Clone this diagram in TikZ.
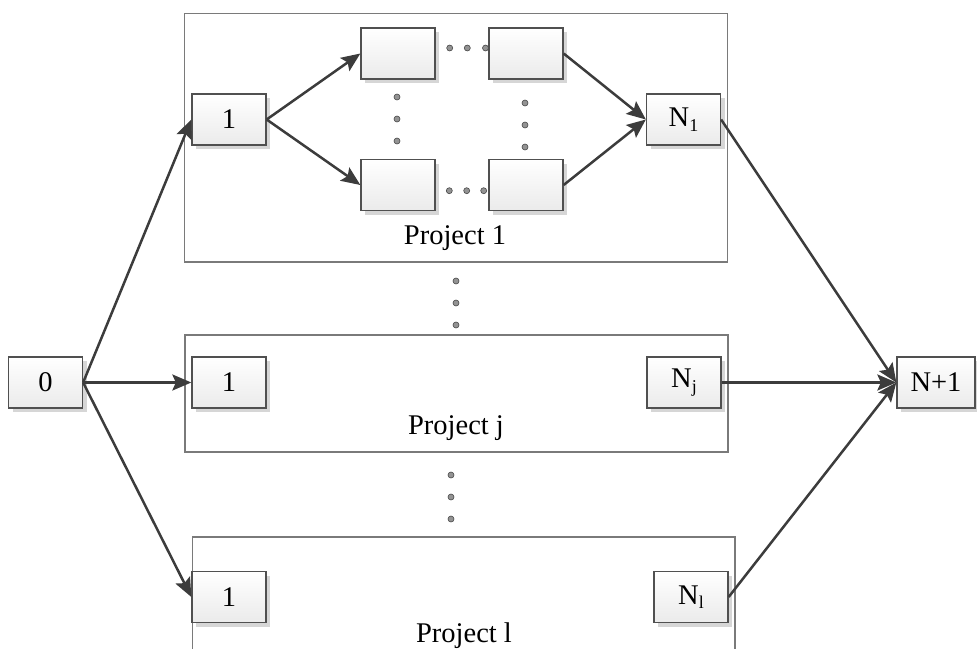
\documentclass[tikz,border=0pt]{standalone}
\usepackage{fontspec}
\setmainfont{Liberation Serif}
\usetikzlibrary{arrows.meta}
\definecolor{linec}{HTML}{3C3C3C}
\definecolor{boxline}{HTML}{505050}
\definecolor{projline}{HTML}{7A7A7A}
\newcommand{\subtx}[1]{\raisebox{-4.5pt}{\fontsize{18}{18}\selectfont #1}}
\tikzset{
  nbox/.style={draw=boxline, line width=1.3pt, minimum width=74pt, minimum height=51pt,
    inner sep=0pt, top color=white, bottom color=gray!16,
    font=\fontsize{28.5}{30}\selectfont},
  shad/.style={fill=gray!32, draw=none},
  proj/.style={draw=projline, line width=1.5pt},
  conn/.style={draw=linec, line width=2.5pt, -{Stealth[length=19pt,width=16pt,inset=3.5pt]}},
  dotc/.style={circle, fill=gray!85, draw=gray!55!black, line width=0.6pt, minimum size=6pt, inner sep=0pt},
  plabel/.style={font=\fontsize{28.5}{30}\selectfont, inner sep=0pt}
}
\begin{document}
\begin{tikzpicture}[x=1pt,y=-1pt]
\useasboundingbox (0,0) rectangle (977,648);
% project containers
\draw[proj] (184.5,13.5) rectangle (727.5,262);
\draw[proj] (185,335) rectangle (728,452);
\draw[proj] (192.5,650) -- (192.5,537) -- (735,537) -- (735,650);
% shadows
\foreach \cx/\cy in {45.5/382.5, 229/119.5, 398/53.5, 526/53.5, 398/185, 526/185, 683.5/119.5, 229/382.5, 684/382.5, 229/597, 691/597}{
  \fill[shad] (\cx-37+4,\cy-25.5+4) rectangle (\cx+37+4,\cy+25.5+4);
}
\fill[shad] (936-39+4,382.5-25.5+4) rectangle (936+39+4,382.5+25.5+4);
% nodes
\node[nbox] (n0) at (45.5,382.5) {0};
\node[nbox] (a1) at (229,119.5) {1};
\node[nbox] (u1) at (398,53.5) {};
\node[nbox] (u2) at (526,53.5) {};
\node[nbox] (d1) at (398,185) {};
\node[nbox] (d2) at (526,185) {};
\node[nbox] (N1) at (683.5,119.5) {N\subtx{1}};
\node[nbox] (b1) at (229,382.5) {1};
\node[nbox] (Nj) at (684,382.5) {N\subtx{j}};
\node[nbox] (c1) at (229,597) {1};
\node[nbox] (Nl) at (691,597) {N\subtx{l}};
\node[nbox, minimum width=78pt] (NP) at (936,382.5) {N+1};
% labels
\node[plabel] (l1) at (455,238) {Project 1};
\node[plabel] (lj) at (456,428) {Project j};
\node[plabel] (ll) at (464,636) {Project l};
% dots
\foreach \x/\y [count=\i] in {449.7/48, 467.3/48, 485.5/48, 449.3/190.7, 466.7/190.7, 483.7/190.7,
  397/97, 397/119, 397/141, 525/103, 525/125, 525/147,
  456/281, 456/303, 456/325, 451/475, 451/497, 451/519}{
  \node[dotc] (dot\i) at (\x,\y) {};
}
% connectors
\draw[conn] (n0.east) -- (a1.west);
\draw[conn] (n0.east) -- (b1.west);
\draw[conn] (n0.east) -- (c1.west);
\draw[conn] (a1.east) -- (u1.west);
\draw[conn] (a1.east) -- (d1.west);
\draw[conn] (u2.east) -- (N1.west);
\draw[conn] (d2.east) -- (N1.west);
\draw[conn] (N1.east) -- (NP.west);
\draw[conn] (Nj.east) -- (NP.west);
\draw[conn] (Nl.east) -- (NP.west);
\end{tikzpicture}
\end{document}
